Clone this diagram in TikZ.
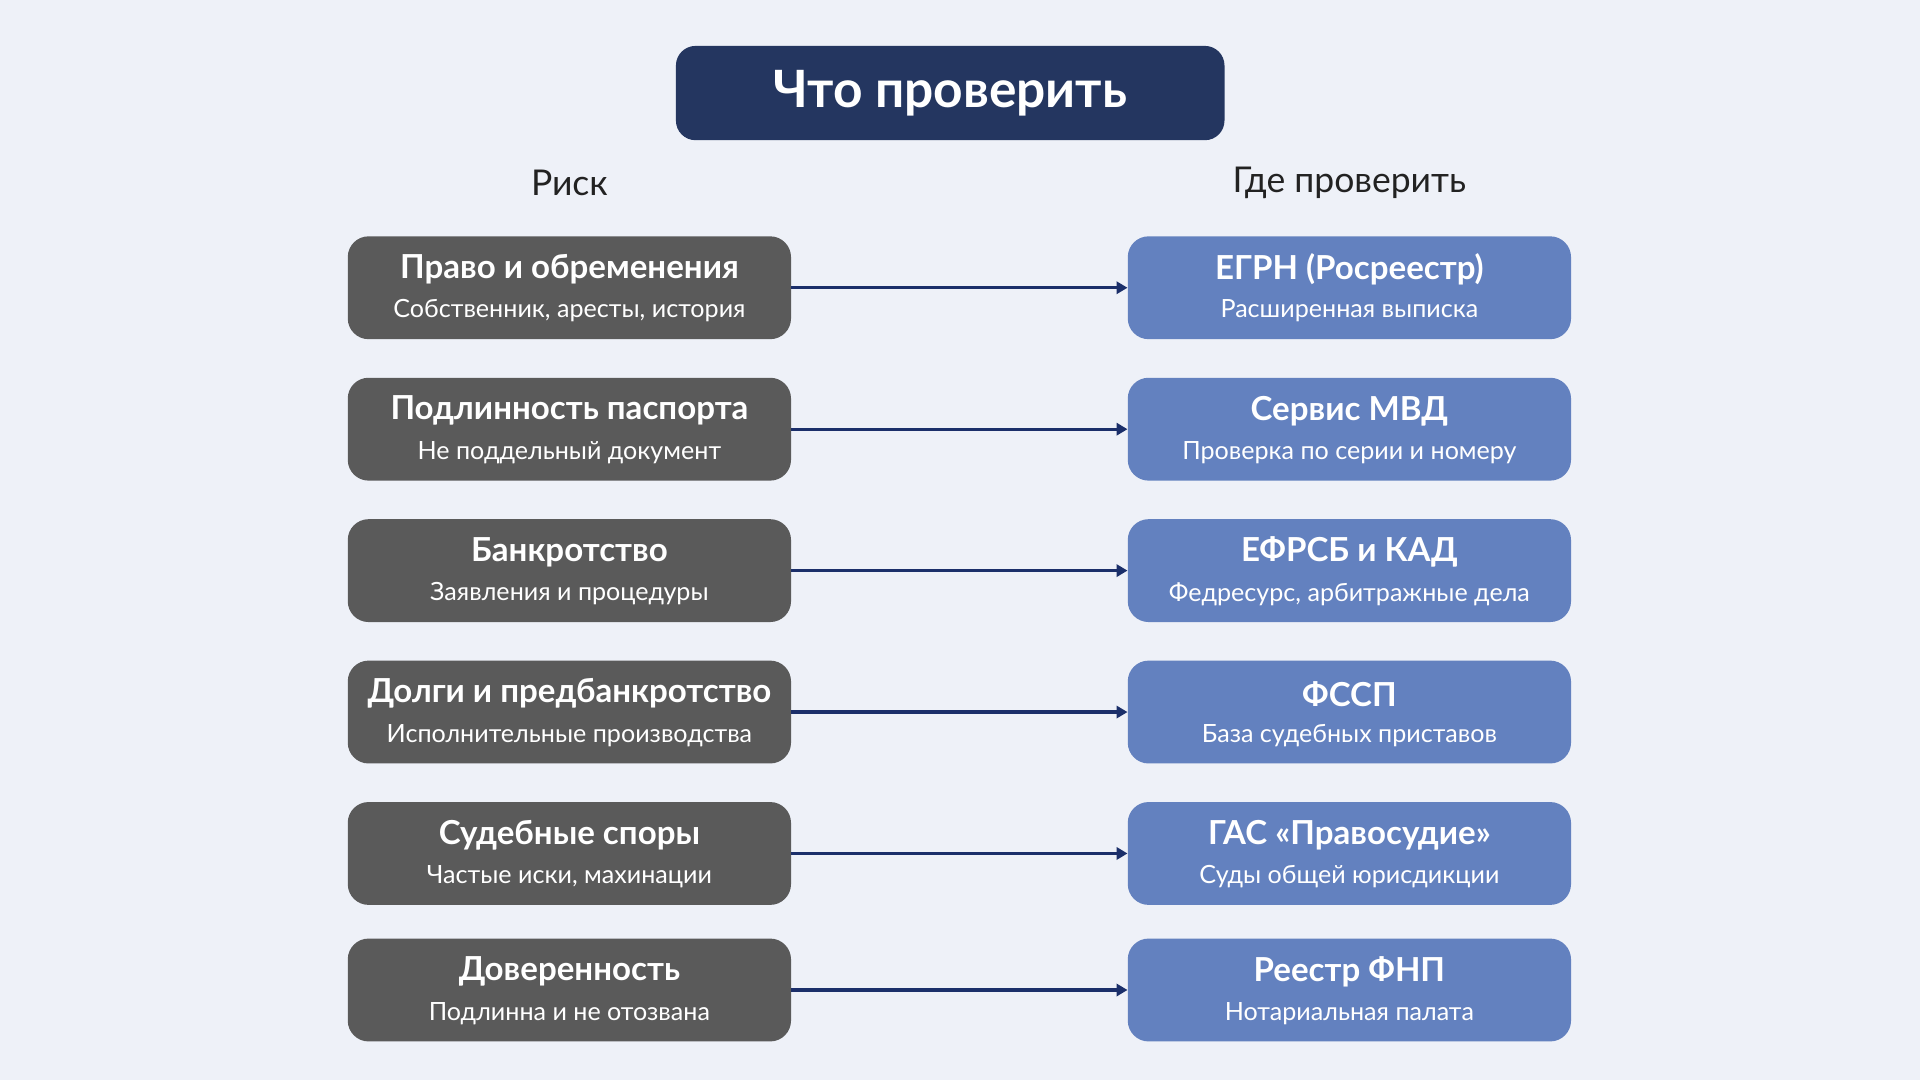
\documentclass[tikz,border=0pt]{standalone}
\usepackage{fontspec}
\setmainfont{Lato}
\usetikzlibrary{arrows.meta}
\definecolor{bg}{HTML}{EEF1F8}
\definecolor{navy}{HTML}{243660}
\definecolor{risk}{HTML}{5A5A5A}
\definecolor{src}{HTML}{6381BF}
\definecolor{arr}{HTML}{1B2F6A}
\definecolor{hdr}{HTML}{222222}
\begin{document}
\begin{tikzpicture}[x=1pt,y=-1pt,
  box/.style={rounded corners=17pt,minimum width=362pt,minimum height=84pt,inner sep=0pt,text=white,align=center},
  L/.style={box,fill=risk},
  R/.style={box,fill=src},
  con/.style={draw=arr,line width=2.6pt,-{Triangle[length=9pt,width=10pt]}}]
\fill[bg] (0,0) rectangle (1568,882);
\useasboundingbox (0,0) rectangle (1568,882);
\node[box,fill=navy,minimum width=448pt,minimum height=77pt,rounded corners=16pt,font=\fontsize{42}{48}\selectfont\bfseries] (title) at (776,76) {Что проверить};
\node[text=hdr,font=\fontsize{29}{34}\selectfont] (h1) at (465,149) {Риск};
\node[text=hdr,font=\fontsize{29}{34}\selectfont] (h2) at (1102,149) {Где проверить};
\newcommand\row[6]{%
  \node[L] (l#1) at (465,#2) {};
  \node[text=white,font=\fontsize{27}{32}\selectfont\bfseries] at (465,#2-15) {#3};
  \node[text=white,font=\fontsize{20.5}{24}\selectfont] at (465,#2+19) {#4};
  \node[R] (r#1) at (1102,#2) {};
  \node[text=white,font=\fontsize{27}{32}\selectfont\bfseries] at (1102,#2-15) {#5};
  \node[text=white,font=\fontsize{20.5}{24}\selectfont] at (1102,#2+19) {#6};
  \draw[con] (l#1.east) -- (r#1.west);}
\row{1}{235}{Право и обременения}{Собственник, аресты, история}{ЕГРН (Росреестр)}{Расширенная выписка}
\row{2}{350.5}{Подлинность паспорта}{Не поддельный документ}{Сервис МВД}{Проверка по серии и номеру}
\row{3}{466}{Банкротство}{Заявления и процедуры}{ЕФРСБ и КАД}{Федресурс, арбитражные дела}
\row{4}{581.5}{Долги и предбанкротство}{Исполнительные производства}{ФССП}{База судебных приставов}
\row{5}{697}{Судебные споры}{Частые иски, махинации}{ГАС «Правосудие»}{Суды общей юрисдикции}
\row{6}{808.5}{Доверенность}{Подлинна и не отозвана}{Реестр ФНП}{Нотариальная палата}
\end{tikzpicture}
\end{document}
